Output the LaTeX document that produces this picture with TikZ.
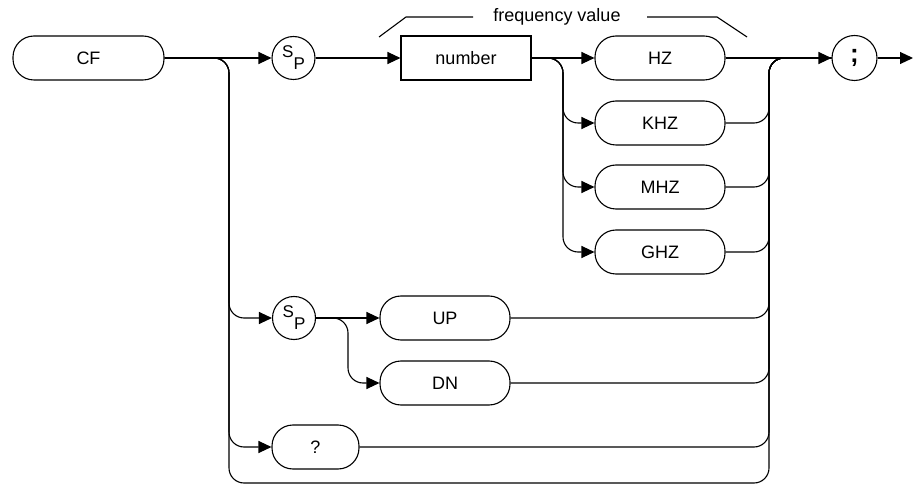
\documentclass[tikz,border=0pt]{standalone}
\usepackage{fontspec}
\setmainfont{Liberation Sans}
\usetikzlibrary{arrows.meta}

\newcommand{\spc}{{\fontsize{17}{17}\selectfont\raisebox{5.5pt}{S}\raisebox{-6.5pt}{P}}}

\begin{document}
\begin{tikzpicture}[x=1pt, y=-1pt, line width=1.1pt]
        \tikzstyle{every node}=[font=\fontsize{18}{18}\selectfont]
        \tikzstyle{keyword}=[draw, rectangle, rounded corners=21pt, minimum width=130pt, minimum height=44pt, inner sep=0pt]
        \tikzstyle{param}=[draw, rectangle, minimum width=130pt, minimum height=44pt, inner sep=0pt]
        \tikzstyle{sep}=[draw, circle, minimum size=43pt, inner sep=0pt]
        \tikzstyle{flow}=[-{Triangle[length=13pt, width=12pt]}]
        \tikzstyle{track}=[rounded corners=15pt]
        \useasboundingbox (0,0) rectangle (913,486);

        \node[keyword, minimum width=151pt] (cf) at (88.5, 58) {CF};
        \node[sep] (sp1) at (293.5, 58) {\spc};
        \node[param] (number) at (466, 58) {number};
        \node[keyword] (hz) at (660, 58) {HZ};
        \node[keyword] (khz) at (660, 123) {KHZ};
        \node[keyword] (mhz) at (660, 187) {MHZ};
        \node[keyword] (ghz) at (660, 252) {GHZ};
        \node[sep, minimum size=45pt] (semi) at (854.5, 58) {\bfseries\fontsize{26}{26}\selectfont;};
        \node[sep] (sp2) at (294, 318) {\spc};
        \node[keyword] (up) at (445, 318) {UP};
        \node[keyword] (dn) at (445, 383) {DN};
        \node[keyword, minimum width=87pt] (query) at (315.5, 447) {?};

        \node (freq) at (557, 17) {frequency value};
        \draw (379, 37) -- (406, 17) -- (473, 17);
        \draw (647, 17) -- (717, 17) -- (747, 37);

        \coordinate (left) at (229, 58);
        \coordinate (unitsplit) at (563, 58);
        \coordinate (stepsplit) at (348, 318);
        \coordinate (merge) at (769, 58);
        \coordinate (bottom) at (500, 483);
        \coordinate (exit) at (913, 58);

        \draw[flow] (cf) -- (sp1);
        \draw[flow] (sp1) -- (number);
        \draw[flow] (number) -- (hz);
        \draw[flow] (hz) -- (semi);
        \draw[flow] (semi) -- (exit);

        \draw[flow, track] (number.east) -| (unitsplit |- khz.west) -- (khz.west);
        \draw[flow, track] (number.east) -| (unitsplit |- mhz.west) -- (mhz.west);
        \draw[flow, track] (number.east) -| (unitsplit |- ghz.west) -- (ghz.west);

        \draw[flow, track] (cf.east) -| (left |- sp2.west) -- (sp2.west);
        \draw[flow, track] (cf.east) -| (left |- query.west) -- (query.west);
        \draw[flow] (sp2) -- (up);
        \draw[flow, track] (sp2.east) -| (stepsplit |- dn.west) -- (dn.west);

        \draw[track] (khz.east) -| (merge) -- (semi.west);
        \draw[track] (mhz.east) -| (merge) -- (semi.west);
        \draw[track] (ghz.east) -| (merge) -- (semi.west);
        \draw[track] (up.east) -| (merge) -- (semi.west);
        \draw[track] (dn.east) -| (merge) -- (semi.west);
        \draw[track] (query.east) -| (merge) -- (semi.west);
        \draw[track] (cf.east) -| (left |- bottom) -| (merge) -- (semi.west);
    \end{tikzpicture}
\end{document}
